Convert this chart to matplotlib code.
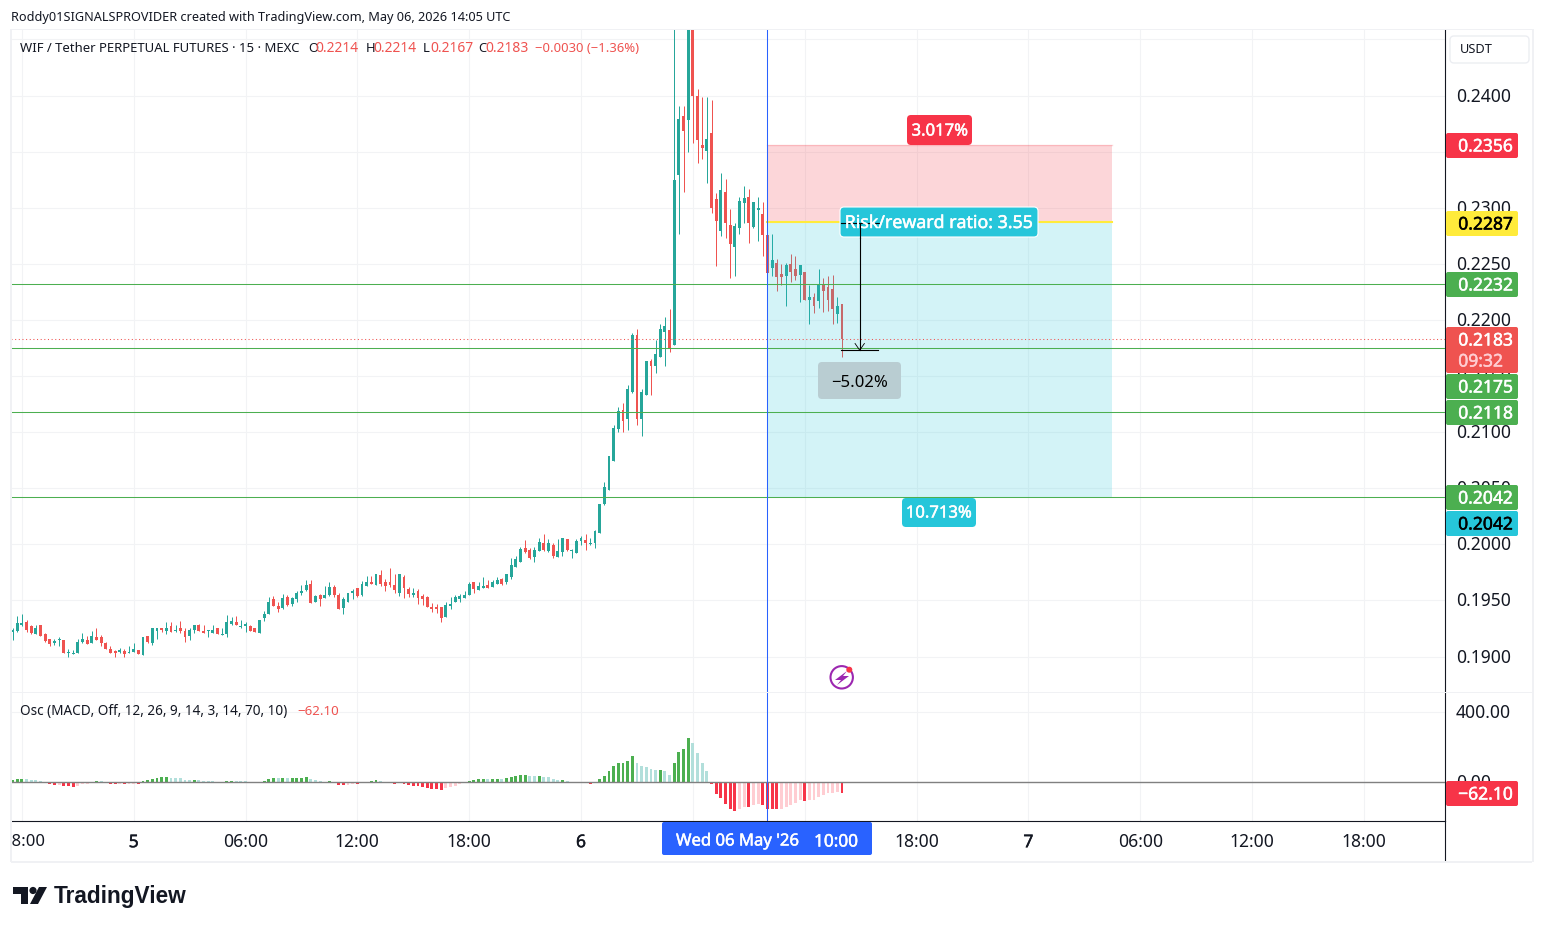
import matplotlib
matplotlib.use('Agg')
import matplotlib.pyplot as plt
import matplotlib.patheffects as pe
import numpy as np
from matplotlib.patches import Rectangle, FancyBboxPatch, Circle, Polygon
from matplotlib.transforms import ScaledTranslation

plt.rcParams['font.family'] = ['Noto Sans', 'DejaVu Sans']

# candles, 15 min, WIF/USDT
opens = [
    0.1922, 0.1923, 0.1928, 0.1931, 0.1927, 0.1920, 0.1928, 0.1920, 0.1916, 0.1912,
    0.1915, 0.1915, 0.1903, 0.1902, 0.1903, 0.1913, 0.1915, 0.1912, 0.1917, 0.1917,
    0.1912, 0.1907, 0.1905, 0.1904, 0.1905, 0.1903, 0.1904, 0.1906, 0.1901, 0.1918,
    0.1912, 0.1923, 0.1925, 0.1923, 0.1927, 0.1923, 0.1925, 0.1923, 0.1918, 0.1924,
    0.1928, 0.1923, 0.1923, 0.1921, 0.1925, 0.1919, 0.1920, 0.1929, 0.1931, 0.1926,
    0.1927, 0.1927, 0.1925, 0.1921, 0.1934, 0.1938, 0.1951, 0.1945, 0.1943, 0.1953,
    0.1947, 0.1951, 0.1957, 0.1959, 0.1965, 0.1949, 0.1955, 0.1952, 0.1955, 0.1962,
    0.1955, 0.1943, 0.1949, 0.1957, 0.1961, 0.1955, 0.1963, 0.1966, 0.1964, 0.1973,
    0.1966, 0.1966, 0.1964, 0.1957, 0.1971, 0.1960, 0.1955, 0.1958, 0.1954, 0.1953,
    0.1944, 0.1944, 0.1944, 0.1935, 0.1945, 0.1949, 0.1951, 0.1952, 0.1955, 0.1966,
    0.1959, 0.1961, 0.1964, 0.1962, 0.1965, 0.1969, 0.1966, 0.1971, 0.1980, 0.1984,
    0.1997, 0.1995, 0.1989, 0.1994, 0.2001, 0.1994, 0.1999, 0.1989, 0.1993, 0.2005,
    0.1994, 0.1992, 0.2003, 0.2004, 0.2000, 0.2001, 0.2010, 0.2036, 0.2048, 0.2074,
    0.2103, 0.2120, 0.2112, 0.2136, 0.2187, 0.2112, 0.2133, 0.2163, 0.2159, 0.2167,
    0.2189, 0.2191, 0.2178, 0.2329, 0.2382, 0.2378, 0.2470, 0.2400, 0.2356, 0.2351,
    0.2367, 0.2308, 0.2279, 0.2314, 0.2285, 0.2265, 0.2282, 0.2304, 0.2310, 0.2283,
    0.2298, 0.2294, 0.2276, 0.2246, 0.2251, 0.2241, 0.2239, 0.2250, 0.2245, 0.2240,
    0.2243, 0.2218, 0.2220, 0.2217, 0.2231, 0.2229, 0.2228, 0.2205, 0.2214,
]
closes = [
    0.1924, 0.1930, 0.1930, 0.1924, 0.1921, 0.1925, 0.1918, 0.1914, 0.1911, 0.1914,
    0.1916, 0.1903, 0.1904, 0.1903, 0.1913, 0.1916, 0.1911, 0.1918, 0.1915, 0.1912,
    0.1907, 0.1903, 0.1903, 0.1906, 0.1902, 0.1904, 0.1907, 0.1902, 0.1917, 0.1913,
    0.1925, 0.1925, 0.1924, 0.1925, 0.1922, 0.1924, 0.1923, 0.1917, 0.1924, 0.1928,
    0.1923, 0.1921, 0.1924, 0.1924, 0.1920, 0.1920, 0.1931, 0.1932, 0.1928, 0.1927,
    0.1929, 0.1923, 0.1922, 0.1933, 0.1938, 0.1949, 0.1945, 0.1942, 0.1952, 0.1946,
    0.1952, 0.1957, 0.1958, 0.1964, 0.1948, 0.1954, 0.1951, 0.1955, 0.1962, 0.1955,
    0.1942, 0.1951, 0.1957, 0.1958, 0.1954, 0.1965, 0.1966, 0.1965, 0.1974, 0.1965,
    0.1963, 0.1964, 0.1959, 0.1974, 0.1961, 0.1956, 0.1957, 0.1952, 0.1951, 0.1944,
    0.1942, 0.1942, 0.1934, 0.1946, 0.1947, 0.1953, 0.1954, 0.1955, 0.1965, 0.1960,
    0.1963, 0.1963, 0.1961, 0.1966, 0.1968, 0.1965, 0.1974, 0.1982, 0.1987, 0.1996,
    0.1993, 0.1988, 0.1995, 0.2002, 0.1995, 0.2001, 0.1990, 0.1994, 0.2006, 0.1995,
    0.1995, 0.2003, 0.2006, 0.2001, 0.2001, 0.2012, 0.2036, 0.2051, 0.2079, 0.2104,
    0.2119, 0.2110, 0.2138, 0.2187, 0.2112, 0.2136, 0.2163, 0.2159, 0.2170, 0.2192,
    0.2195, 0.2175, 0.2325, 0.2379, 0.2368, 0.2470, 0.2400, 0.2360, 0.2353, 0.2361,
    0.2300, 0.2288, 0.2316, 0.2286, 0.2268, 0.2284, 0.2306, 0.2309, 0.2286, 0.2305,
    0.2300, 0.2276, 0.2242, 0.2253, 0.2238, 0.2238, 0.2249, 0.2243, 0.2239, 0.2249,
    0.2218, 0.2220, 0.2212, 0.2231, 0.2226, 0.2218, 0.2210, 0.2212, 0.2183,
]
highs = [
    0.1925, 0.1936, 0.1938, 0.1933, 0.1928, 0.1928, 0.1928, 0.1921, 0.1916, 0.1916,
    0.1917, 0.1915, 0.1907, 0.1906, 0.1916, 0.1921, 0.1918, 0.1923, 0.1925, 0.1919,
    0.1913, 0.1909, 0.1906, 0.1908, 0.1907, 0.1909, 0.1912, 0.1906, 0.1917, 0.1918,
    0.1925, 0.1925, 0.1925, 0.1931, 0.1931, 0.1928, 0.1932, 0.1925, 0.1925, 0.1928,
    0.1929, 0.1928, 0.1924, 0.1928, 0.1925, 0.1925, 0.1937, 0.1935, 0.1936, 0.1933,
    0.1931, 0.1928, 0.1925, 0.1933, 0.1941, 0.1953, 0.1954, 0.1949, 0.1956, 0.1955,
    0.1953, 0.1958, 0.1964, 0.1968, 0.1968, 0.1955, 0.1956, 0.1963, 0.1966, 0.1964,
    0.1957, 0.1953, 0.1957, 0.1960, 0.1961, 0.1967, 0.1972, 0.1972, 0.1974, 0.1977,
    0.1969, 0.1979, 0.1974, 0.1974, 0.1973, 0.1962, 0.1961, 0.1960, 0.1956, 0.1954,
    0.1948, 0.1947, 0.1944, 0.1949, 0.1953, 0.1955, 0.1956, 0.1958, 0.1966, 0.1966,
    0.1966, 0.1971, 0.1968, 0.1968, 0.1971, 0.1970, 0.1974, 0.1988, 0.1990, 0.1998,
    0.2004, 0.1997, 0.1998, 0.2006, 0.2009, 0.2005, 0.2001, 0.2005, 0.2006, 0.2005,
    0.1996, 0.2005, 0.2007, 0.2009, 0.2006, 0.2013, 0.2036, 0.2056, 0.2079, 0.2106,
    0.2122, 0.2126, 0.2142, 0.2188, 0.2192, 0.2138, 0.2163, 0.2165, 0.2182, 0.2196,
    0.2203, 0.2210, 0.2470, 0.2391, 0.2391, 0.2480, 0.2480, 0.2406, 0.2399, 0.2399,
    0.2396, 0.2313, 0.2331, 0.2326, 0.2299, 0.2286, 0.2310, 0.2319, 0.2317, 0.2305,
    0.2310, 0.2305, 0.2276, 0.2277, 0.2254, 0.2250, 0.2251, 0.2259, 0.2257, 0.2249,
    0.2243, 0.2231, 0.2224, 0.2245, 0.2237, 0.2239, 0.2240, 0.2220, 0.2214,
]
lows = [
    0.1915, 0.1922, 0.1927, 0.1922, 0.1920, 0.1920, 0.1918, 0.1913, 0.1909, 0.1910,
    0.1909, 0.1903, 0.1900, 0.1902, 0.1903, 0.1912, 0.1911, 0.1912, 0.1915, 0.1909,
    0.1907, 0.1903, 0.1900, 0.1903, 0.1900, 0.1903, 0.1904, 0.1902, 0.1901, 0.1912,
    0.1910, 0.1916, 0.1922, 0.1920, 0.1922, 0.1922, 0.1921, 0.1913, 0.1915, 0.1921,
    0.1923, 0.1921, 0.1917, 0.1921, 0.1920, 0.1919, 0.1917, 0.1928, 0.1928, 0.1925,
    0.1922, 0.1923, 0.1922, 0.1921, 0.1932, 0.1938, 0.1945, 0.1940, 0.1942, 0.1945,
    0.1945, 0.1949, 0.1955, 0.1958, 0.1948, 0.1949, 0.1945, 0.1952, 0.1954, 0.1953,
    0.1942, 0.1938, 0.1949, 0.1951, 0.1953, 0.1954, 0.1963, 0.1965, 0.1964, 0.1963,
    0.1958, 0.1962, 0.1957, 0.1954, 0.1952, 0.1953, 0.1953, 0.1947, 0.1946, 0.1944,
    0.1940, 0.1939, 0.1931, 0.1935, 0.1942, 0.1949, 0.1949, 0.1952, 0.1955, 0.1957,
    0.1959, 0.1961, 0.1961, 0.1962, 0.1965, 0.1964, 0.1965, 0.1969, 0.1980, 0.1984,
    0.1992, 0.1987, 0.1984, 0.1994, 0.1994, 0.1993, 0.1988, 0.1989, 0.1990, 0.1994,
    0.1988, 0.1992, 0.1999, 0.1995, 0.1999, 0.1997, 0.2010, 0.2035, 0.2048, 0.2074,
    0.2100, 0.2100, 0.2102, 0.2135, 0.2106, 0.2097, 0.2133, 0.2133, 0.2153, 0.2167,
    0.2159, 0.2171, 0.2178, 0.2277, 0.2314, 0.2350, 0.2358, 0.2340, 0.2343, 0.2322,
    0.2295, 0.2248, 0.2275, 0.2273, 0.2237, 0.2239, 0.2277, 0.2286, 0.2269, 0.2282,
    0.2270, 0.2257, 0.2234, 0.2239, 0.2226, 0.2231, 0.2212, 0.2234, 0.2236, 0.2216,
    0.2218, 0.2196, 0.2206, 0.2211, 0.2207, 0.2208, 0.2196, 0.2197, 0.2167,
]

# oscillator histogram, one bar per candle
hist = [
    13, 19, 20, 19, 13, 12, 8, 0, -8, -15,
    -14, -21, -22, -26, -21, -9, -8, 0, 8, 7,
    0, -9, -10, -9, -10, -9, -8, -9, 8, 13,
    19, 25, 30, 31, 25, 24, 23, 13, 12, 13,
    12, 8, 7, 6, 0, 0, 8, 9, 8, 7,
    6, 0, 0, 0, 8, 19, 25, 24, 25, 24,
    25, 26, 27, 28, 19, 13, 8, 0, 8, 0,
    -15, -16, -15, -9, -10, 0, 0, 8, 13, 8,
    0, 0, -9, 0, -9, -15, -21, -22, -26, -32,
    -38, -39, -44, -34, -27, -21, -9, 0, 8, 13,
    19, 20, 19, 20, 21, 20, 25, 30, 36, 42,
    43, 36, 35, 36, 30, 29, 19, 13, 14, 8,
    0, 0, 0, 0, -9, 0, 19, 36, 64, 93,
    110, 111, 121, 150, 110, 93, 87, 76, 70, 71,
    64, 42, 110, 172, 189, 252, 223, 167, 110, 64,
    -9, -66, -89, -123, -152, -163, -152, -140, -141, -129,
    -123, -129, -152, -153, -154, -152, -140, -129, -117, -100,
    -106, -100, -99, -83, -72, -61, -60, -55, -62.1,
]

price_ticks = [0.19, 0.195, 0.20, 0.205, 0.21, 0.215, 0.22, 0.225, 0.23, 0.235, 0.24, 0.245]
# the scale hides the labels of these two behind its tags and button
price_hidden = [0.235, 0.245]
osc_ticks = [0, 400]
# candle index of each time label, the two under the date box show no text
time_idx = [2, 26, 50, 74, 98, 122, 146, 170, 194, 218, 242, 266, 290]
time_lab = ['18:00', '5', '06:00', '12:00', '18:00', '6', '', '', '18:00', '7', '06:00', '12:00', '18:00']

levels = [0.2232, 0.2175, 0.2118, 0.2042]
last_price = 0.2183
entry, stop, target = 0.2287, 0.2356, 0.2042
pos_start, pos_end = 162, 236
cross_idx = 162
measure_idx = 181.8
measure_top, measure_bot = 0.2287, 0.2173

UP, DOWN = '#26a69a', '#ef5350'
GRID = '#f2f3f5'
INK = '#131722'
W, H = 1543, 930


def box(left, top, right, bottom):
    return [left / W, 1 - bottom / H, (right - left) / W, (bottom - top) / H]


def heavier(col, w=0.35):
    return [pe.withStroke(linewidth=w, foreground=col)]


fig = plt.figure(figsize=(W / 100, H / 100), dpi=100, facecolor='white')
ax = fig.add_axes(box(11, 30, 1445, 692))
ax_osc = fig.add_axes(box(11, 692, 1445, 821), sharex=ax)
ax_time = fig.add_axes(box(11, 821, 1445, 861), sharex=ax)

x = np.arange(len(closes))
opens, closes, highs, lows, hist = map(np.array, (opens, closes, highs, lows, hist))
cols = np.where(closes >= opens, UP, DOWN)

# price pane
ax.vlines(x, lows, highs, colors=cols, lw=0.72, zorder=2, snap=True)
ax.bar(x, closes - opens, bottom=opens, width=0.62, color=cols, lw=0, zorder=3)
ax.set_xlim(-0.33, 307.4)
ax.set_ylim(0.18684, 0.24584)
ax.set_yticks(price_ticks)
ax.set_yticklabels(['' if p in price_hidden else '%.4f' % p for p in price_ticks])
ax.yaxis.tick_right()
ax.tick_params(axis='y', length=0, pad=8, labelsize=12.6, labelcolor=INK)
ax.tick_params(axis='x', length=0, labelbottom=False)
ax.set_xticks(time_idx)
ax.grid(color=GRID, lw=0.8, zorder=0)
ax.set_axisbelow(True)

# short position box
ax.add_patch(Rectangle((pos_start, entry), pos_end - pos_start, stop - entry,
                       fc='#f23645', alpha=0.2, lw=0, zorder=4))
ax.add_patch(Rectangle((pos_start, target), pos_end - pos_start, entry - target,
                       fc='#26c6da', alpha=0.2, lw=0, zorder=4))
ax.plot([pos_start, pos_end], [stop, stop], color='#f23645', alpha=0.2, lw=1, zorder=4)
ax.plot([pos_start, pos_end], [entry, entry], color='#ffeb3b', lw=1.5, zorder=5)

for lev in levels:
    ax.axhline(lev, color='#4caf50', lw=0.75, zorder=5)
ax.axhline(last_price, color=DOWN, lw=0.75, ls=(0, (1, 2.5)), zorder=5)
ax.axvline(cross_idx, color='#2962ff', lw=0.75, zorder=6)

# measure arrow
ax.plot([measure_idx, measure_idx], [measure_top, measure_bot], color='black', lw=0.8, zorder=8)
ax.plot([measure_idx - 4, measure_idx + 4], [measure_top, measure_top], color='black', lw=0.8, zorder=8)
ax.plot([measure_idx - 4, measure_idx + 4], [measure_bot, measure_bot], color='black', lw=0.8, zorder=8)
ax.plot([measure_idx - 1, measure_idx, measure_idx + 1],
        [measure_bot + 0.0006, measure_bot, measure_bot + 0.0006], color='black', lw=0.6, zorder=8)

# oscillator pane
bar_cols = []
for i, v in enumerate(hist):
    prev = hist[i - 1] if i else 0
    if v >= 0:
        bar_cols.append('#4caf50' if v >= prev else '#b2dfdb')
    else:
        bar_cols.append('#f73448' if v <= prev else '#ffcdd2')
ax_osc.bar(x, hist, width=0.62, color=bar_cols, lw=0, zorder=3)
ax_osc.set_ylim(-220, 513)
ax_osc.set_yticks(osc_ticks)
ax_osc.set_yticklabels(['0.00', '400.00'])
ax_osc.yaxis.tick_right()
ax_osc.tick_params(axis='y', length=0, pad=8, labelsize=12.6, labelcolor=INK)
ax_osc.tick_params(axis='x', length=0, labelbottom=False)
ax_osc.grid(color=GRID, lw=0.8, zorder=0)
ax_osc.set_axisbelow(True)
ax_osc.axhline(0, color='#808080', lw=1, zorder=4)
ax_osc.axvline(cross_idx, color='#2962ff', lw=0.75, zorder=6)

# nudge the scale labels up one pixel
up_one = ScaledTranslation(0, 1 / 100, fig.dpi_scale_trans)
for a in (ax, ax_osc):
    for lab in a.get_yticklabels():
        lab.set_transform(lab.get_transform() + up_one)

# time strip
ax_time.set_ylim(0, 1)
ax_time.set_yticks([])
ax_time.tick_params(axis='x', length=0, labelbottom=False)
for i, lab in zip(time_idx, time_lab):
    if lab:
        # first label sits on the pane's edge, only "8:00" of it shows
        pos, sz = (i + 0.4, 12.0) if i == time_idx[0] else (i, 12.6)
        ax_time.text(pos, 0.47, lab, ha='center', va='center', fontsize=sz, color=INK, clip_on=True,
                     path_effects=heavier(INK, 0.3) if len(lab) == 1 else None)

for a in (ax, ax_osc, ax_time):
    for s in a.spines.values():
        s.set_visible(False)
    a.patch.set_alpha(0)
    a.spines['right'].set_visible(True)
    a.spines['right'].set_color(INK)
    a.spines['right'].set_linewidth(0.8)
ax_time.spines['top'].set_visible(True)
ax_time.spines['top'].set_color(INK)
ax_time.spines['top'].set_linewidth(0.8)

# everything around the panes goes on a pixel overlay
over = fig.add_axes([0, 0, 1, 1], zorder=10)
over.set_xlim(0, W)
over.set_ylim(H, 0)
over.axis('off')
over.patch.set_alpha(0)


def tag(x0, y0, x1, y1, col, r=2, ec='none', lw=0):
    over.add_patch(FancyBboxPatch((x0 + r, y0 + r), x1 - x0 - 2 * r, y1 - y0 - 2 * r,
                                  boxstyle='round,pad=%d,rounding_size=%d' % (r, r),
                                  fc=col, ec=ec, lw=lw))


def label(px, py, s, col=INK, size=9.4, ha='left', **kw):
    over.text(px, py + 1, s, color=col, fontsize=size, ha=ha, va='center', **kw)


# frame bands
for rect in [(11, 29, 1521, 1.5), (11, 861, 1521, 1.5), (10, 29, 1.5, 833), (1532, 29, 1.5, 833), (11, 692, 1521, 1)]:
    over.add_patch(Rectangle(rect[:2], rect[2], rect[3], fc='#f0f1f4', lw=0, zorder=0))

label(11, 17, 'Roddy01SIGNALSPROVIDER created with TradingView.com, May 06, 2026 14:05 UTC', '#131722', 9.15)
label(20, 47, 'WIF / Tether PERPETUAL FUTURES · 15 · MEXC', INK, 9.45)
for px, s, col, sz in [(308, 'O', INK, 9.4), (315, '0.2214', DOWN, 10), (366, 'H', INK, 9.4), (373, '0.2214', DOWN, 10),
                       (423, 'L', INK, 9.4), (430, '0.2167', DOWN, 10), (478, 'C', INK, 9.4), (485, '0.2183', DOWN, 10),
                       (535, '−0.0030 (−1.36%)', DOWN, 9.4)]:
    label(px, 47, s, col, sz)
label(20, 710, 'Osc (MACD, Off, 12, 26, 9, 14, 3, 14, 70, 10)', INK, 9.75)
label(297, 710, '−62.10', DOWN, 9.6)

# USDT button
tag(1450, 36, 1529, 63, 'white', r=4, ec='#eceef2', lw=1)
label(1460, 48.5, 'USDT', INK, 9.2)

# price tags on the right scale
for y0, s, fc, tc in [(133, '0.2356', '#f73448', 'white'), (211, '0.2287', '#ffeb3b', 'black'),
                      (272, '0.2232', '#4caf50', 'white'), (374, '0.2175', '#4caf50', 'white'),
                      (400, '0.2118', '#4caf50', 'white'), (485, '0.2042', '#4caf50', 'white'),
                      (511, '0.2042', '#26c6da', 'black'), (781, '−62.10', '#f73448', 'white')]:
    tag(1446, y0, 1518, y0 + 25, fc)
    label(1513, y0 + 12.5, s, tc, 12.6, ha='right', path_effects=heavier(tc))
tag(1446, 327, 1518, 373, '#ef5350')
label(1513, 339.5, '0.2183', 'white', 12.6, ha='right', path_effects=heavier('white'))
label(1503, 360.5, '09:32', '#ffcdd2', 12.6, ha='right', path_effects=heavier('#ffcdd2'))

# position labels
tag(907, 115, 972, 145, '#f73448', r=4)
label(940, 130.5, '3.017%', 'white', 12, ha='center', path_effects=heavier('white'))
tag(840, 207, 1038, 237, '#26c6da', r=4, ec='white', lw=0.8)
label(939, 222, 'Risk/reward ratio: 3.55', 'white', 12.8, ha='center', path_effects=heavier('white'))
tag(902, 498, 976, 527, '#26c6da', r=4)
label(939, 512.5, '10.713%', 'white', 12, ha='center', path_effects=heavier('white'))
over.plot([841, 879], [223, 223], color='black', lw=0.8)
over.plot([860, 860], [223, 238], color='black', lw=0.8)
tag(818, 362, 901, 399, '#b9cdd2', r=4)
label(860, 381.5, '−5.02%', 'black', 12, ha='center')

# date on the crosshair
tag(662, 822, 872, 855, '#2962ff', r=2)
label(676, 840.5, "Wed 06 May '26", 'white', 12, path_effects=heavier('white'))
label(814, 840.5, '10:00', 'white', 12.4, path_effects=heavier('white'))

# lightning badge
over.add_patch(Circle((841.7, 677.3), 11.2, fc='white', ec='#9c27b0', lw=1.5))
over.add_patch(Polygon([(847, 671), (835, 680), (841, 680), (837, 685), (849, 676), (843, 676)],
                       fc='#9c27b0', lw=0))
over.add_patch(Circle((849.3, 669.7), 3, fc='#f73448', lw=0))

# TradingView logo
over.add_patch(Polygon([(13, 887), (28, 887), (28, 904), (21, 904), (21, 894), (13, 894)], fc=INK, lw=0))
over.add_patch(Circle((33, 890.5), 3.6, fc=INK, lw=0))
over.add_patch(Polygon([(39, 887), (47, 887), (38, 904), (30, 904)], fc=INK, lw=0))
label(54, 895.5, 'TradingView', INK, 16.3, fontweight='bold', family='Liberation Sans')

fig.savefig('out.png', dpi=100)
